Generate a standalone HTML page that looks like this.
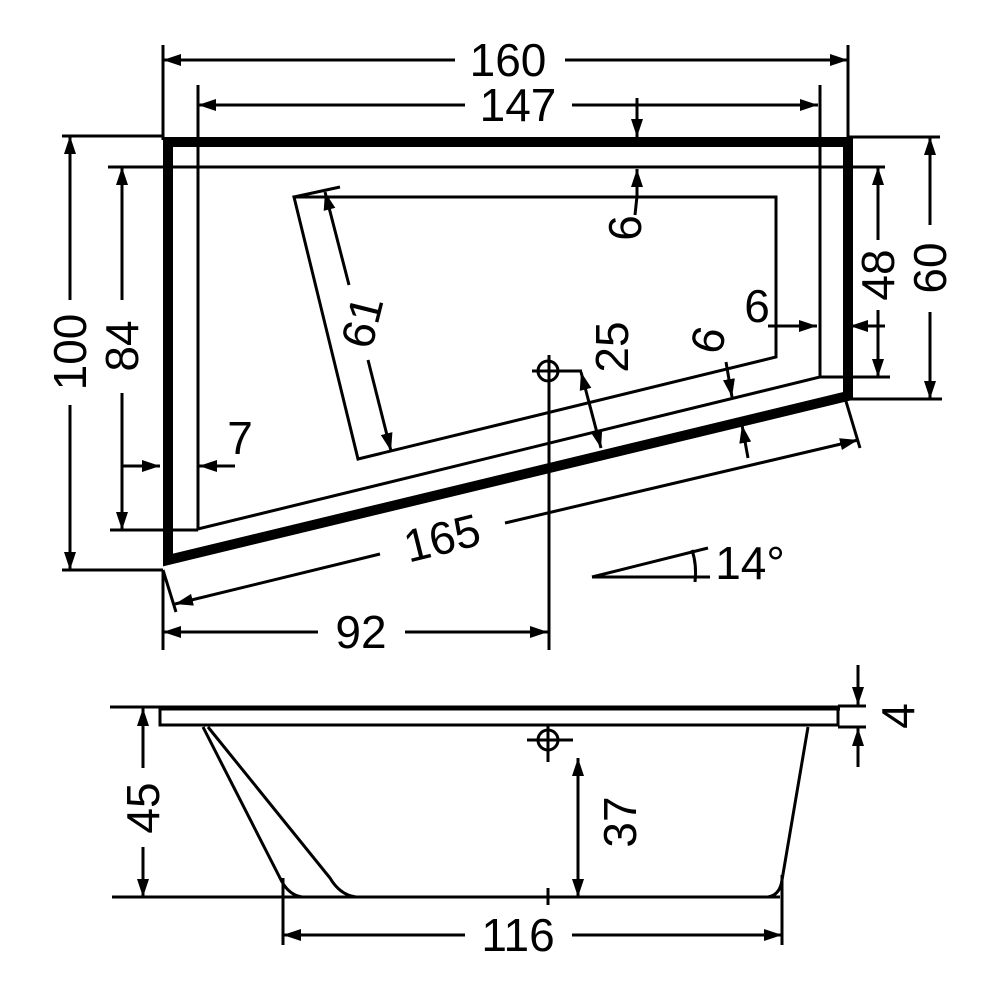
<!DOCTYPE html>
<html><head><meta charset="utf-8"><style>
html,body{margin:0;padding:0;background:#fff}
svg{display:block}
text{font-family:"Liberation Sans",sans-serif;fill:#000;text-anchor:middle;dominant-baseline:central}
</style></head><body>
<svg width="1000" height="1000" viewBox="0 0 1000 1000" xmlns="http://www.w3.org/2000/svg">
<defs>
<marker id="a" viewBox="0 0 18 12" refX="18" refY="6" markerWidth="18" markerHeight="12" markerUnits="userSpaceOnUse" orient="auto-start-reverse">
<path d="M0,0 L18,6 L0,12 z" fill="#000"/></marker>
</defs>
<g stroke="#000" fill="none" stroke-width="3">
<path d="M163,142 H848 V396 L168,560 V142" stroke-width="10" stroke-linejoin="miter"/>
<path d="M198,85 V529 L820,377 V85"/>
<line x1="108" y1="167" x2="885" y2="167"/>
<line x1="110" y1="530" x2="198" y2="530"/>
<line x1="820" y1="377" x2="890" y2="377"/>
<path d="M294,197 H776 V357 L358,459 Z"/>
<line x1="294" y1="197" x2="340" y2="187"/>
<line x1="163" y1="45" x2="163" y2="140"/>
<line x1="848" y1="45" x2="848" y2="140"/>
<line x1="62" y1="136" x2="163" y2="136"/>
<line x1="62" y1="570" x2="163" y2="570"/>
<line x1="848" y1="137" x2="940" y2="137"/>
<line x1="848" y1="399" x2="942" y2="399"/>
<line x1="163" y1="570" x2="163" y2="650"/>
<line x1="163" y1="570" x2="176" y2="612"/>
<line x1="845" y1="398" x2="860" y2="448"/>
<line x1="163" y1="60" x2="455" y2="60" marker-start="url(#a)"/>
<line x1="565" y1="60" x2="848" y2="60" marker-end="url(#a)"/>
<line x1="198" y1="105" x2="465" y2="105" marker-start="url(#a)"/>
<line x1="572" y1="105" x2="818" y2="105" marker-end="url(#a)"/>
<line x1="637" y1="98" x2="637" y2="137" marker-end="url(#a)"/>
<path d="M635,215 L637,196 V169" marker-end="url(#a)"/>
<line x1="70" y1="300" x2="70" y2="136" marker-end="url(#a)"/>
<line x1="70" y1="405" x2="70" y2="570" marker-end="url(#a)"/>
<line x1="122" y1="300" x2="122" y2="167" marker-end="url(#a)"/>
<line x1="122" y1="393" x2="122" y2="530" marker-end="url(#a)"/>
<line x1="122" y1="466" x2="160" y2="466" marker-end="url(#a)"/>
<line x1="235" y1="466" x2="199" y2="466" marker-end="url(#a)"/>
<line x1="930" y1="225" x2="930" y2="137" marker-end="url(#a)"/>
<line x1="930" y1="312" x2="930" y2="399" marker-end="url(#a)"/>
<line x1="878" y1="240" x2="878" y2="167" marker-end="url(#a)"/>
<line x1="878" y1="310" x2="878" y2="377" marker-end="url(#a)"/>
<line x1="768" y1="326" x2="817" y2="326" marker-end="url(#a)"/>
<line x1="885" y1="326" x2="850" y2="326" marker-end="url(#a)"/>
<line x1="726" y1="362" x2="732" y2="397" marker-end="url(#a)"/>
<line x1="349" y1="285" x2="325" y2="192" marker-end="url(#a)"/>
<line x1="368" y1="360" x2="391" y2="451" marker-end="url(#a)"/>
<circle cx="548" cy="371" r="10"/>
<line x1="532" y1="371" x2="582" y2="371"/>
<line x1="549" y1="355" x2="549" y2="650"/>
<line x1="581" y1="372" x2="601" y2="448" marker-start="url(#a)" marker-end="url(#a)"/>
<line x1="380" y1="554" x2="175" y2="604" marker-end="url(#a)"/>
<line x1="505" y1="523" x2="858" y2="440" marker-end="url(#a)"/>
<line x1="748" y1="458" x2="742" y2="425" marker-end="url(#a)"/>
<line x1="318" y1="632" x2="163" y2="632" marker-end="url(#a)"/>
<line x1="405" y1="632" x2="548" y2="632" marker-end="url(#a)"/>
<line x1="592" y1="577" x2="710" y2="577"/>
<line x1="592" y1="577" x2="708" y2="548"/>
<path d="M692,550 Q697,565 695,582"/>

<path d="M160,708 H840" stroke-width="5"/>
<path d="M160,708 V725 H838 V708"/>
<line x1="110" y1="707" x2="160" y2="707"/>
<line x1="838" y1="706" x2="866" y2="706"/>
<line x1="838" y1="727" x2="866" y2="727"/>
<line x1="112" y1="897" x2="780" y2="897"/>
<path d="M203,727 L280,878 Q288,895 302,897"/>
<path d="M208,727 L330,878 Q340,895 356,897"/>
<path d="M808,727 L782,880 Q780,895 768,897"/>
<circle cx="548" cy="740" r="10"/>
<line x1="527" y1="740" x2="573" y2="740"/>
<line x1="548" y1="724" x2="548" y2="762"/>
<line x1="548" y1="888" x2="548" y2="905"/>
<line x1="143" y1="768" x2="143" y2="708" marker-end="url(#a)"/>
<line x1="143" y1="847" x2="143" y2="897" marker-end="url(#a)"/>
<line x1="578" y1="758" x2="578" y2="897" marker-start="url(#a)" marker-end="url(#a)"/>
<line x1="858" y1="665" x2="858" y2="705" marker-end="url(#a)"/>
<line x1="858" y1="767" x2="858" y2="728" marker-end="url(#a)"/>
<line x1="283" y1="878" x2="283" y2="945"/>
<line x1="782" y1="875" x2="782" y2="945"/>
<line x1="465" y1="935" x2="283" y2="935" marker-end="url(#a)"/>
<line x1="572" y1="935" x2="782" y2="935" marker-end="url(#a)"/>
</g>
<g font-size="46">
<text x="508" y="60">160</text>
<text x="518" y="105">147</text>
<text x="70" y="352" transform="rotate(-90 70 352)">100</text>
<text x="122" y="346" transform="rotate(-90 122 346)">84</text>
<text x="930" y="268" transform="rotate(-90 930 268)">60</text>
<text x="878" y="275" transform="rotate(-90 878 275)">48</text>
<text x="362" y="322" transform="rotate(-76 362 322)">61</text>
<text x="612" y="347" transform="rotate(-90 612 347)">25</text>
<text x="625" y="228" transform="rotate(-90 625 228)">6</text>
<text x="708" y="340" transform="rotate(-76 708 340)">6</text>
<text x="757" y="306">6</text>
<text x="240" y="438">7</text>
<text x="442" y="538" transform="rotate(-14 442 538)">165</text>
<text x="361" y="632">92</text>
<text x="750" y="563">14°</text>
<text x="143" y="808" transform="rotate(-90 143 808)">45</text>
<text x="620" y="822" transform="rotate(-90 620 822)">37</text>
<text x="898" y="716" transform="rotate(-90 898 716)">4</text>
<text x="518" y="935">116</text>
</g>
</svg>
</body></html>
